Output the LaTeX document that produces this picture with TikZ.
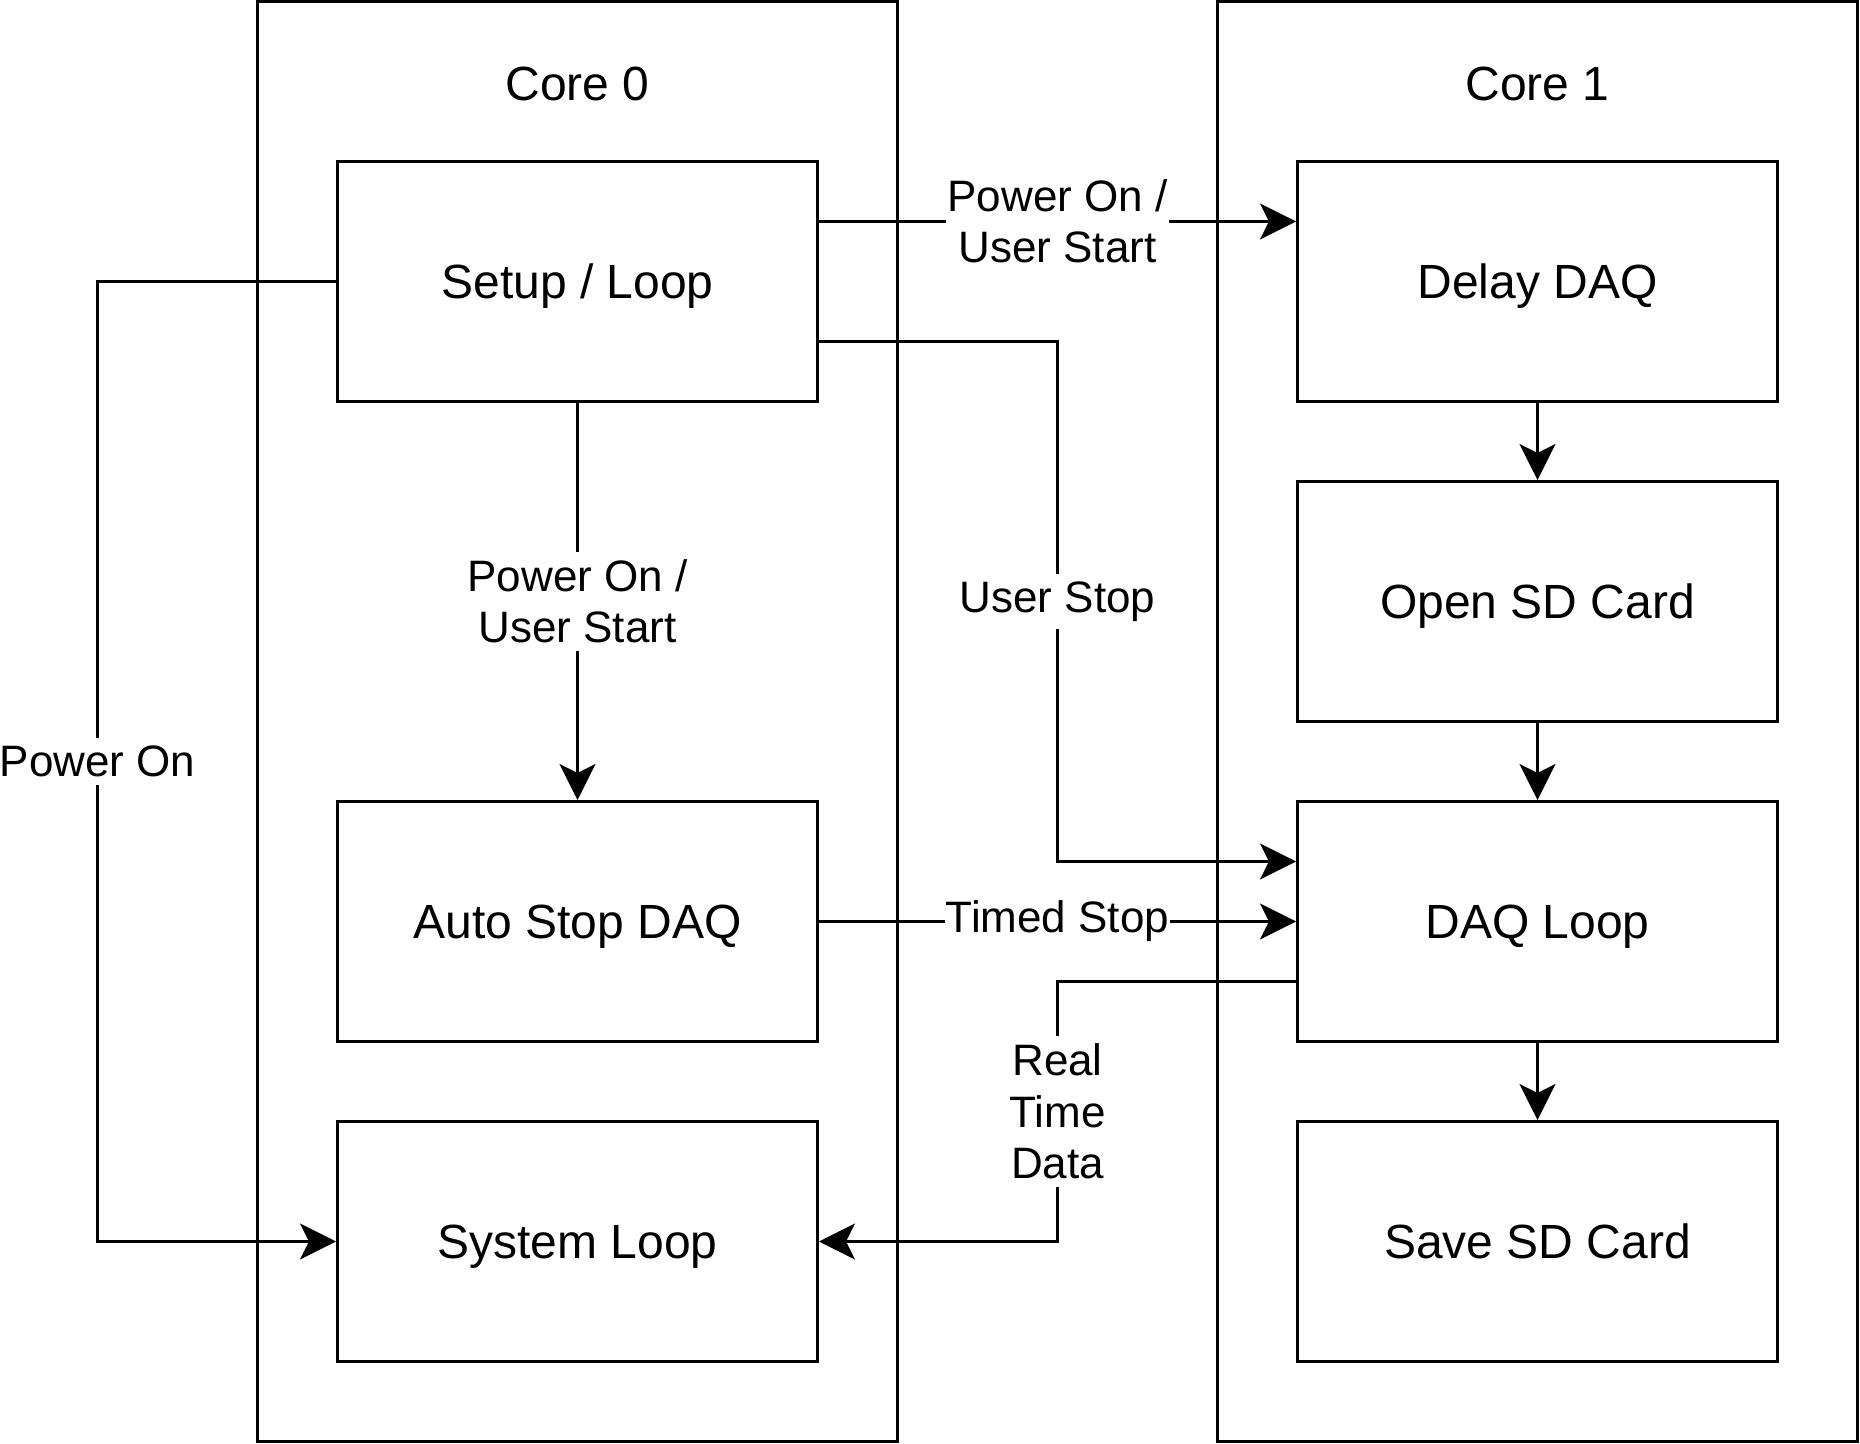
\documentclass[tikz,border=0pt]{standalone}
\usepackage{fontspec}
\setmainfont{Liberation Sans}
\usetikzlibrary{arrows.meta}
\begin{document}
\begin{tikzpicture}[x=0.5pt,y=-0.5pt, line width=1.5pt,
  core/.style={draw, rectangle, minimum width=320pt, minimum height=720pt, inner sep=0pt},
  box/.style={draw, rectangle, fill=white, minimum width=240pt, minimum height=120pt, inner sep=0pt,
    text height=17.2pt, text depth=0pt, font=\fontsize{24}{28.8}\selectfont},
  title/.style={inner sep=0pt, text height=17.2pt, text depth=0pt, font=\fontsize{24}{28.8}\selectfont},
  lbl/.style={fill=white, inner xsep=0.5pt, inner ysep=4pt, align=center, font=\fontsize{22}{25.75}\selectfont},
  arr/.style={-{Stealth[length=18pt,width=18pt,inset=4.5pt]}}]
\useasboundingbox (0,0) rectangle (1860,1444);

% containers
\node[core] (core0) at (577.5,721.5) {};
\node[core] (core1) at (1537.5,721.5) {};
\node[title] (t0) at (577.5,83) {Core 0};
\node[title] (t1) at (1537.5,83) {Core 1};

% boxes
\node[box] (setup) at (577.5,281.5) {Setup / Loop};
\node[box] (autostop) at (577.5,921.5) {Auto Stop DAQ};
\node[box] (sysloop) at (577.5,1241.5) {System Loop};
\node[box] (delay) at (1537.5,281.5) {Delay DAQ};
\node[box] (opensd) at (1537.5,601.5) {Open SD Card};
\node[box] (daq) at (1537.5,921.5) {DAQ Loop};
\node[box] (save) at (1537.5,1241.5) {Save SD Card};

% helper coordinates
\coordinate (us1) at ([yshift=-30pt]setup.east);
\coordinate (us2) at ([yshift=30pt]daq.west);
\coordinate (rt1) at ([yshift=-30pt]daq.west);
\coordinate (cUS) at (1057.5,601.5);
\coordinate (cRT) at (1057.5,1111.5);
\coordinate (cPO) at (97.5,761.5);

% connectors
\draw[arr] ([yshift=30pt]setup.east) -- node[lbl] (l1) {Power On /\\User Start} ([yshift=30pt]delay.west);
\draw[arr] (setup.south) -- node[lbl] (l2) {Power On /\\User Start} (autostop.north);
\draw[arr] (us1) -| (cUS) |- (us2);
\node[lbl] (l3) at (cUS) {User Stop};
\draw[arr] (autostop.east) -- node[lbl] (l4) {Timed Stop} (daq.west);
\draw[arr] (rt1) -| (cRT) |- (sysloop.east);
\node[lbl] (l5) at (cRT) {Real\\Time\\Data};
\draw[arr] (setup.west) -| (cPO) |- (sysloop.west);
\node[lbl] (l6) at (cPO) {Power On};
\draw[arr] (delay.south) -- (opensd.north);
\draw[arr] (opensd.south) -- (daq.north);
\draw[arr] (daq.south) -- (save.north);
\end{tikzpicture}
\end{document}
